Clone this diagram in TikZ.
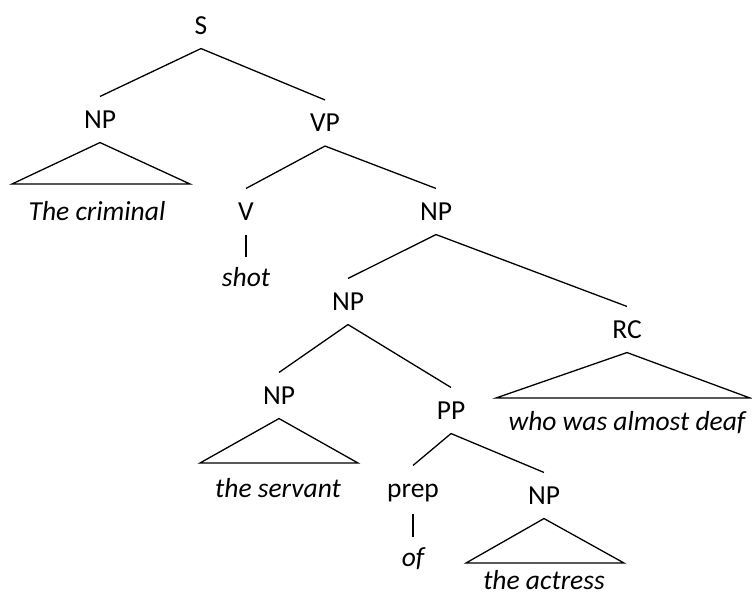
\documentclass[tikz,border=0pt]{standalone}
\usepackage{fontspec}
\setmainfont{Carlito}
\begin{document}
\begin{tikzpicture}[x=1pt,y=-1pt,
  lab/.style={font=\fontsize{27.5}{33}\selectfont, text height=17.7pt, text depth=0pt, inner xsep=2pt, inner ysep=14pt},
  leaf/.style={font=\fontsize{27.5}{33}\selectfont\itshape, text height=18pt, text depth=6pt, inner sep=0pt, anchor=base},
  edge/.style={line width=1.3pt, line join=miter},
  tri/.style={line width=1.3pt, line join=miter}]
\useasboundingbox (0,0) rectangle (752,595);
% labels
\node[lab] (S)    at (201,25.5)  {S};
\node[lab] (NPa)  at (100,119.5) {NP};
\node[lab] (VP)   at (325,123)   {VP};
\node[lab] (V)    at (246,211.5) {V};
\node[lab] (NPb)  at (436,211.5) {NP};
\node[lab] (NPc)  at (348,301.5) {NP};
\node[lab] (RC)   at (627,329.5) {RC};
\node[lab] (NPd)  at (279,395.5) {NP};
\node[lab] (PP)   at (451,410.5) {PP};
\node[lab] (prep) at (413,488.5) {prep};
\node[lab] (NPe)  at (544,495.5) {NP};
% leaves
\node[leaf] (w1) at (97,220)  {The criminal};
\node[leaf] (w2) at (246,286) {shot};
\node[leaf] (w3) at (278,497) {the servant};
\node[leaf] (w4) at (627,430) {who was almost deaf};
\node[leaf] (w5) at (413,566) {of};
\node[leaf, text depth=0pt] (w6) at (544,589) {the actress};
% edges
\draw[edge] (S.south) -- (NPa.north);
\draw[edge] (S.south) -- (VP.north);
\draw[edge] (VP.south) -- (V.north);
\draw[edge] (VP.south) -- (NPb.north);
\draw[edge] (NPb.south) -- (NPc.north);
\draw[edge] (NPb.south) -- (RC.north);
\draw[edge] (NPc.south) -- (NPd.north);
\draw[edge] (NPc.south) -- (PP.north);
\draw[edge] (PP.south) -- (prep.north);
\draw[edge] (PP.south) -- (NPe.north);
\draw[edge, shorten >=11pt] (V.south) -- (w2.north);
\draw[edge, shorten <=2.5pt, shorten >=11pt] (prep.south) -- (w5.north);
% triangles
\coordinate (a1) at (12,184);  \coordinate (a2) at (190,184);
\coordinate (b1) at (496,398); \coordinate (b2) at (750,398);
\coordinate (c1) at (200,463); \coordinate (c2) at (358,463);
\coordinate (d1) at (466,563); \coordinate (d2) at (624,563);
\draw[tri] (NPa.south) -- (a1) -- (a2) -- cycle;
\draw[tri] (RC.south) -- (b1) -- (b2) -- cycle;
\draw[tri] (NPd.south) -- (c1) -- (c2) -- cycle;
\draw[tri] (NPe.south) -- (d1) -- (d2) -- cycle;
\end{tikzpicture}
\end{document}
